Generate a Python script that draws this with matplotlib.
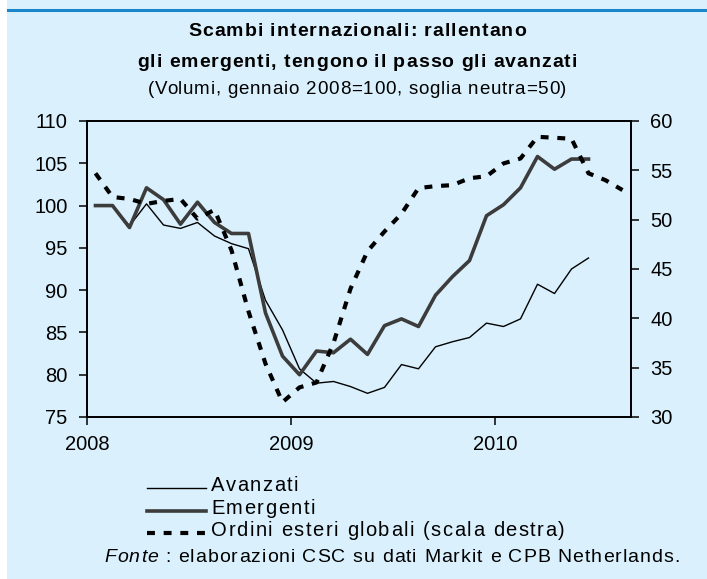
import matplotlib.pyplot as plt
from matplotlib.patches import Rectangle
from matplotlib.lines import Line2D
from matplotlib.font_manager import FontProperties
from matplotlib.transforms import IdentityTransform

plt.rcParams['font.family'] = ['Liberation Sans', 'DejaVu Sans']

# monthly data, Jan 2008 - Aug 2010
avanzati = [100, 100, 97.6, 100.2, 97.7, 97.3, 98.0, 96.4, 95.5, 94.9, 88.8, 85.3,
            80.7, 79.0, 79.2, 78.6, 77.8, 78.5, 81.2, 80.7, 83.3, 83.9, 84.4, 86.1,
            85.7, 86.6, 90.7, 89.6, 92.5, 93.8]
emergenti = [100, 100, 97.4, 102.1, 100.7, 97.8, 100.4, 98.0, 96.7, 96.7, 87.3, 82.2,
             80.0, 82.8, 82.6, 84.2, 82.4, 85.8, 86.6, 85.7, 89.4, 91.6, 93.5, 98.8,
             100.1, 102.1, 105.8, 104.3, 105.5, 105.5]
ordini = [54.7, 52.3, 52.1, 51.6, 51.9, 52.1, 50.1, 51.0, 46.9, 40.7, 35.4, 31.5,
          33.0, 33.5, 37.5, 43.0, 46.8, 48.8, 50.6, 53.2, 53.4, 53.5, 54.2, 54.4,
          55.7, 56.2, 58.4, 58.3, 58.2, 54.7, 54.0, 53.0]
year_labels = ['2008', '2009', '2010']
legend_labels = ['Avanzati', 'Emergenti', 'Ordini esteri globali (scala destra)']

bg = '#DAF1FD'
W, H = 707, 579
fig = plt.figure(figsize=(W / 100, H / 100), dpi=100)
fig.patch.set_facecolor('white')
fig.patches.append(Rectangle((7 / W, 0), 1 - 7 / W, 1, transform=fig.transFigure,
                             facecolor=bg, edgecolor='none', zorder=-5))
fig.add_artist(Line2D([8 / W, 1], [1 - 10 / H, 1 - 10 / H], color='#1B86C9', lw=2.2))

renderer = fig.canvas.get_renderer()


def spaced_text(x, y, s, track, ha='left', **kw):
    # Excel-like text with a bit of letter spacing; x, y in pixels from top-left
    fp = FontProperties(family=plt.rcParams['font.family'], size=kw.get('fontsize', 12),
                        weight=kw.get('fontweight', 'normal'), style=kw.get('style', 'normal'))
    w = lambda t: renderer.get_text_width_height_descent(t, fp, ismath=False)[0] if t.strip() else 0
    pos = [w(s[:i + 1]) - w(s[i]) for i in range(len(s))]
    total = w(s) + track * (len(s) - 1)
    x0 = x - total / 2 if ha == 'center' else x
    for i, ch in enumerate(s):
        if ch != ' ':
            fig.text(x0 + pos[i] + i * track, H - y, ch, transform=IdentityTransform(),
                     ha='left', va='baseline', **kw)
    return x0 + total


ax = fig.add_axes([87 / W, 1 - 417 / H, 544 / W, 296 / H])
ax.set_facecolor(bg)
ax2 = ax.twinx()

styles = [dict(color='black', lw=1.0),
          dict(color='#3C3C3C', lw=2.6),
          dict(color='black', lw=3.0, dashes=(1.9, 2.1), dash_capstyle='butt')]

ax.plot(range(len(avanzati)), avanzati, zorder=3, **styles[0])
ax.plot(range(len(emergenti)), emergenti, zorder=4, **styles[1])
ax2.plot(range(len(ordini)), ordini, **styles[2])

ax.set_xlim(-0.5, 31.5)
ax.set_ylim(75, 110)
ax2.set_ylim(30, 60)
ax.set_yticks(range(75, 111, 5))
ax2.set_yticks(range(30, 61, 5))
ax.set_xticks([-0.5, 11.5, 23.5])
ax.set_xticklabels(year_labels)

for a in (ax, ax2):
    for s in a.spines.values():
        s.set_linewidth(1.3)
        s.set_color('black')
    a.tick_params(labelsize=14.5, length=6, width=1.1, direction='out', pad=8)
ax.tick_params(axis='x', pad=7)

# titles
spaced_text(357, 36, 'Scambi internazionali: rallentano', 1.0, ha='center',
            fontsize=14, fontweight='bold')
spaced_text(357, 67, 'gli emergenti, tengono il passo gli avanzati', 1.0, ha='center',
            fontsize=14, fontweight='bold')
spaced_text(357, 94, '(Volumi, gennaio 2008=100, soglia neutra=50)', 0.8, ha='center',
            fontsize=13.5)

# legend
for k, lab in enumerate(legend_labels):
    yb = 491 + k * 22.5
    fig.add_artist(Line2D([147 / W, 206 / W], [1 - (yb - 3) / H] * 2,
                          transform=fig.transFigure, **styles[k]))
    spaced_text(211, yb, lab, 1.5, fontsize=14.5)

# source note
xe = spaced_text(104, 562, 'Fonte', 1.0, fontsize=14, style='italic')
spaced_text(xe + 1.0, 562, ' : elaborazioni CSC su dati Markit e CPB Netherlands.', 1.0,
            fontsize=14)

fig.savefig('out.png', dpi=100)
